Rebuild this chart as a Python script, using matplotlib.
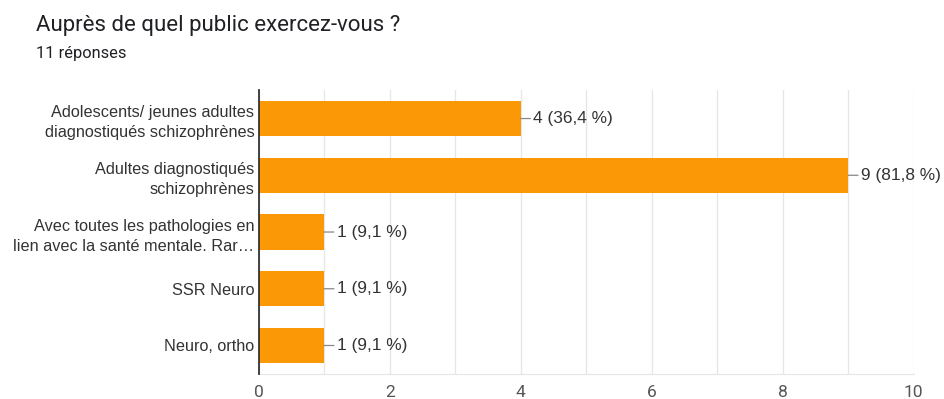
import matplotlib
matplotlib.use("Agg")
import matplotlib.pyplot as plt
from matplotlib.ticker import MultipleLocator

title = "Auprès de quel public exercez-vous ?"
subtitle = "11 réponses"
categories = [
    "Adolescents/ jeunes adultes\ndiagnostiqués schizophrènes",
    "Adultes diagnostiqués\nschizophrènes",
    "Avec toutes les pathologies en\nlien avec la santé mentale. Rar…",
    "SSR Neuro",
    "Neuro, ortho",
]
counts = [4, 9, 1, 1, 1]
percents = ["36,4", "81,8", "9,1", "9,1", "9,1"]
xticks = [0, 2, 4, 6, 8, 10]

fig = plt.figure(figsize=(9.44, 3.99), dpi=100)
ax = fig.add_axes([0.274, 0.063, 0.694, 0.711])

y = list(range(len(categories)))
ax.barh(y, counts, height=0.62, color="#fb9805", zorder=3)
ax.set_ylim(len(categories) - 0.5, -0.5)
ax.set_xlim(0, 10)
ax.set_yticks(y)
ax.set_yticklabels(categories, fontsize=11.7, color="#333333", family=["Liberation Sans", "DejaVu Sans"],
                   linespacing=1.42)
ax.set_xticks(xticks)
ax.set_xticklabels([str(t) for t in xticks], fontsize=12.5, color="#555555", family=["Roboto", "DejaVu Sans"])
ax.xaxis.set_minor_locator(MultipleLocator(1))
ax.grid(axis="x", which="both", color="#e6e6e6", linewidth=0.9, zorder=0)
ax.tick_params(axis="both", which="both", length=0, pad=4)
ax.tick_params(axis="x", pad=8)
ax.tick_params(axis="y", pad=3)
for s in ["top", "right"]:
    ax.spines[s].set_visible(False)
ax.spines["bottom"].set_color("#e6e6e6")
ax.spines["left"].set_color("#333333")
ax.spines["left"].set_linewidth(1.3)
ax.spines["left"].set_zorder(4)

for yi, c, p in zip(y, counts, percents):
    ax.annotate(f"{c} ({p} %)", xy=(c, yi), xytext=(9, 0), textcoords="offset points",
                va="center", ha="left", fontsize=12.4, color="#333333",
                family=["Liberation Sans", "DejaVu Sans"],
                arrowprops=dict(arrowstyle="-", color="#888888", lw=0.9,
                                shrinkA=0, shrinkB=0))

fig.text(0.038, 0.935, title, fontsize=16, color="#202124", family=["Roboto", "DejaVu Sans"],
         va="center", ha="left")
fig.text(0.038, 0.867, subtitle, fontsize=11.8, color="#202124", family=["Roboto", "DejaVu Sans"],
         va="center", ha="left")

fig.savefig("out.png", dpi=100)
